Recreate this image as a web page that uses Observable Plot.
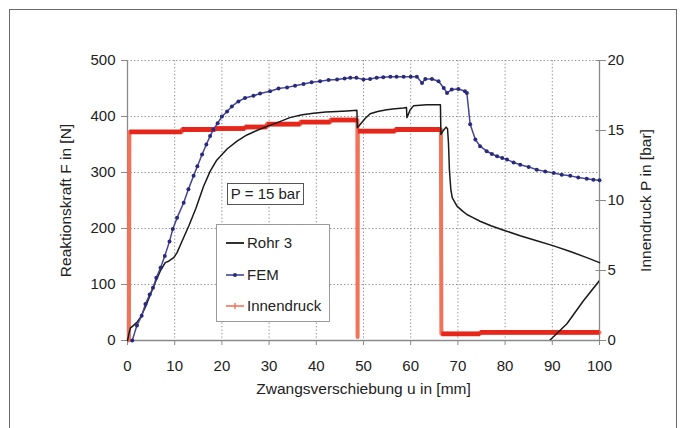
<!DOCTYPE html>
<html>
<head>
<meta charset="utf-8">
<script src="https://cdn.jsdelivr.net/npm/d3@7"></script>
<script src="https://cdn.jsdelivr.net/npm/@observablehq/plot@0.6"></script>
<style>
  html, body { margin: 0; padding: 0; background: #fff; }
  body { width: 686px; height: 428px; overflow: hidden; position: relative; font-family: "Liberation Sans", Arial, sans-serif; color: #222; }
  #frame { position: absolute; left: 9px; top: 9px; width: 668px; height: 440px; border: 1px solid #6a6a6a; box-sizing: border-box; }
  #chart { position: absolute; left: 0; top: 0; }
  .box { position: absolute; background: #fff; box-sizing: border-box; }
  #pbox { left: 227px; top: 183px; width: 77px; height: 22px; border: 1.5px solid #555; font-size: 15px; line-height: 19px; text-align: center; }
  #legend { left: 216px; top: 224px; width: 114px; height: 98px; border: 1.5px solid #9a9a9a; }
  .entry { position: absolute; left: 7px; height: 20px; font-size: 15px; line-height: 20px; white-space: nowrap; }
  .entry svg { position: absolute; left: 0; top: 0; }
  .entry span { position: absolute; left: 23px; top: 0; }
</style>
</head>
<body>
<div id="frame"></div>
<div id="chart"></div>
<div class="box" id="pbox">P = 15 bar</div>
<div class="box" id="legend"></div>
<script>
// ---- data ----
const xTicks = [0, 10, 20, 30, 40, 50, 60, 70, 80, 90, 100];
const yTicks = [0, 100, 200, 300, 400, 500];
const pTicks = [0, 5, 10, 15, 20];          // right axis, bar
const pToN = 500 / 20;                        // right axis maps 0..20 bar onto 0..500 N

const rohrX = [0,0.3,0.6,1.4,2.05,2.75,3.8,4.9,5.9,7,8,8.8,9.8,10.5,11.6,13,14.5,16.1,17.5,18.9,21.1,23.2,25.3,27.4,29.5,32,34.4,37,39.4,42,44.4,46.5,48.6,48.7,49.5,50.4,51.4,53,54.9,56.7,58.5,59.1,59.2,59.9,60.6,62,63.4,66.3,66.4,67,67.5,67.8,68,68.2,68.5,68.8,69.8,71,71.9,73.3,74.7,77,79.7,83.2,86.7,90.3,93.8,97.3,100];
const rohrF = [0,12,22,28,33,41,60,83,104,125,139,142,148,157,178,205,236,275,302,322,342,356,367,375,382,390,398,403,406,408,409,410,411,380,388,397,405,409,412,414,415,416,398,412,419,420,421,421,368,376,381,378,353,305,270,255,240,231,225,219,213,205,197,187,178,169,159,148,139];

const rohr2X = [88.7, 93.1, 96.6, 100];
const rohr2F = [-6, 30, 71, 107];

const femX = [1,2,3,3.8,4.7,5.4,6.1,7,7.9,8.9,9.6,10.5,11.9,12.9,14,14.8,15.8,16.7,17.5,18.2,19.1,20,21.1,22.1,23.5,24.9,26.7,28.1,30.2,32,33.8,35.5,37.3,39,40.8,42.6,44.4,46,47.2,48.5,50,51.4,52.8,54.2,55.7,57,58.5,60,61.3,62.4,63.1,64.5,65.9,67,67.7,68.7,70.1,71.5,71.9,72.6,73.7,74.7,76.1,77.2,78.3,79.4,80.4,81.8,83.2,85,86.7,88.5,90.3,92,93.8,95.5,97.3,98.7,100];
const femF = [0,27,44,65,82,94,112,130,151,177,199,219,246,270,294,311,332,350,365,377,388,400,409,418,427,433,437,441,445,450,452,455,458,461,463,465,466,468,469,469,466,467,469,470,471,471,471,471,471,460,467,467,463,451,442,448,449,445,442,386,359,347,338,333,329,326,323,318,314,310,305,302,299,296,294,291,289,287,286];

const druckX = [0.3,0.4,11.5,11.5,18.6,18.6,24.9,24.9,29.5,29.5,36.6,36.6,43,43,48.7,48.75,48.8,56.7,56.7,66.4,66.5,74.7,74.7,100];
const druckP = [0,14.9,14.9,15.07,15.07,15.14,15.14,15.25,15.25,15.45,15.45,15.6,15.6,15.75,15.75,0.25,14.95,14.95,15.07,15.07,0.48,0.48,0.58,0.58];

const seriesNames = ["Rohr 3", "FEM", "Innendruck"];
const xTitle = "Zwangsverschiebung u in [mm]";
const yTitle = "Reaktionskraft F in [N]";
const pTitle = "Innendruck P in [bar]";

const colRohr = "#1a1a1a", colFem = "#45459a", colFemDot = "#2a2a7c", colDruck = "#e6261b", colDruckLight = "#f0735a";

// ---- tables ----
const rohr = rohrX.map((x, i) => ({x, f: rohrF[i]}));
const rohr2 = rohr2X.map((x, i) => ({x, f: rohr2F[i]}));
const fem = femX.map((x, i) => ({x, f: femF[i]}));
const druck = druckX.map((x, i) => ({x, p: druckP[i]}));
// horizontal runs of the pressure trace (drawn in the stronger red)
const druckRuns = druck.slice(0, -1)
  .map((d, i) => ({x1: d.x, x2: druck[i + 1].x, p1: d.p, p2: druck[i + 1].p}))
  .filter(s => s.p1 === s.p2);

const axisCol = "#8a8a8a";
const font = "'Liberation Sans', Arial, sans-serif";

const chart = Plot.plot({
  width: 686, height: 428,
  marginLeft: 127, marginRight: 87, marginTop: 60, marginBottom: 88,
  x: {domain: [0, 100]},
  y: {domain: [0, 500]},
  style: {fontFamily: font, fontSize: "15px", color: "#222", background: "transparent", overflow: "visible"},
  marks: [
    Plot.gridX(xTicks.slice(1, -1), {stroke: "#8c8c8c", strokeOpacity: 1, strokeDasharray: "1.3,2.2"}),
    Plot.gridY(yTicks.slice(1), {stroke: "#8c8c8c", strokeOpacity: 1, strokeDasharray: "1.3,2.2"}),
    Plot.ruleY([0], {stroke: axisCol, strokeWidth: 1.3}),
    Plot.ruleX([0, 100], {stroke: axisCol, strokeWidth: 1.3}),
    Plot.axisX(xTicks, {anchor: "bottom", tickSize: 5, tickPadding: 15, stroke: axisCol, label: null, fill: "#222"}),
    Plot.axisY(yTicks, {anchor: "left", tickSize: 6, tickPadding: 6, stroke: axisCol, label: null, fill: "#222"}),
    Plot.axisY(pTicks.map(v => v * pToN), {anchor: "right", tickSize: 6, tickPadding: 2, stroke: axisCol, tickFormat: d => d / pToN, label: null, fill: "#222"}),
    Plot.ruleY(pTicks.map(v => v * pToN), {x1: 99.25, x2: 100, stroke: axisCol}),
    Plot.line(druck, {x: "x", y: d => d.p * pToN, stroke: colDruckLight, strokeWidth: 4}),
    Plot.link(druckRuns, {x1: "x1", x2: "x2", y1: d => d.p1 * pToN, y2: d => d.p2 * pToN, stroke: colDruck, strokeWidth: 4.8, strokeLinecap: "butt"}),
    Plot.line(rohr, {x: "x", y: "f", stroke: colRohr, strokeWidth: 1.5}),
    Plot.line(rohr2, {x: "x", y: "f", stroke: colRohr, strokeWidth: 1.5, clip: true}),
    Plot.line(fem, {x: "x", y: "f", stroke: colFem, strokeWidth: 1.5}),
    Plot.dot(fem, {x: "x", y: "f", r: 2, fill: colFemDot, stroke: "none"}),
    Plot.text([xTitle], {text: d => d, frameAnchor: "bottom", textAnchor: "middle", dy: 53, fontSize: 15.5, fill: "#222"}),
    Plot.text([yTitle], {text: d => d, frameAnchor: "left", textAnchor: "middle", dx: -61, rotate: -90, fontSize: 15.5, fill: "#222"}),
    Plot.text([pTitle], {text: d => d, frameAnchor: "right", textAnchor: "middle", dx: 47, rotate: -90, fontSize: 15.5, fill: "#222"})
  ]
});
document.getElementById("chart").appendChild(chart);

// ---- legend ----
const legend = document.getElementById("legend");
const tops = [8, 40, 71];
seriesNames.forEach((name, i) => {
  const e = document.createElement("div");
  e.className = "entry";
  e.style.top = tops[i] + "px";
  let sample;
  if (i === 0) sample = `<line x1="2" y1="10" x2="20" y2="10" stroke="${colRohr}" stroke-width="1.8"/>`;
  if (i === 1) sample = `<line x1="2" y1="10" x2="20" y2="10" stroke="${colFem}" stroke-width="1.6"/><circle cx="11" cy="10" r="2" fill="${colFemDot}"/>`;
  if (i === 2) sample = `<line x1="2" y1="10" x2="20" y2="10" stroke="${colDruckLight}" stroke-width="1.6"/><line x1="11" y1="7" x2="11" y2="13" stroke="${colDruckLight}" stroke-width="1.4"/>`;
  e.innerHTML = `<svg width="22" height="20">${sample}</svg><span>${name}</span>`;
  legend.appendChild(e);
});
</script>
</body>
</html>
